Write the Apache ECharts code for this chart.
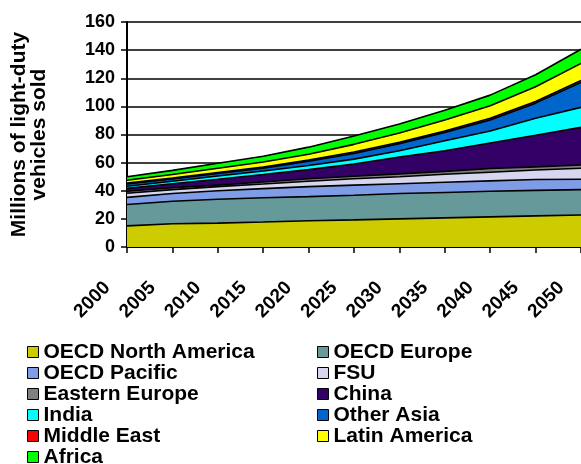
<!DOCTYPE html>
<html>
<head>
<meta charset="utf-8">
<script src="https://cdn.jsdelivr.net/npm/echarts@6/dist/echarts.min.js"></script>
<style>
html,body{margin:0;padding:0;background:#fff;}
#c{width:581px;height:464px;}
</style>
</head>
<body>
<div id="c"></div>
<script>
var years = ['2000','2005','2010','2015','2020','2025','2030','2035','2040','2045','2050'];
var oecdNorthAmerica = [15.0,16.5,17.0,17.8,18.7,19.3,20.0,20.7,21.4,22.1,22.8];
var oecdEurope      = [15.2,16.0,17.0,17.2,17.1,17.5,18.0,18.1,18.2,18.2,18.0];
var oecdPacific     = [5.1,5.5,6.0,6.5,7.1,7.2,7.0,7.2,7.4,7.7,7.4];
var fsu             = [2.9,2.8,2.9,3.3,3.9,4.5,5.0,5.7,6.2,6.8,7.8];
var easternEurope   = [1.4,1.4,1.1,1.4,1.7,1.8,2.0,2.1,2.6,2.2,2.3];
var china           = [2.1,2.8,4.2,5.3,6.5,8.7,12.0,14.7,18.2,22.5,26.8];
var india           = [1.5,1.8,2.3,2.5,3.0,3.5,4.5,7.0,8.5,12.0,14.2];
var otherAsia       = [1.6,1.5,1.8,2.0,3.0,4.0,5.0,6.0,7.8,10.8,17.8];
var middleEast      = [0.7,0.7,0.7,0.8,0.8,1.0,1.0,1.0,1.2,1.2,1.3];
var latinAmerica    = [2.0,2.5,3.0,3.7,4.2,5.5,6.5,7.8,9.0,10.5,12.2];
var africa          = [2.5,3.0,3.5,4.0,5.0,6.0,6.5,7.0,7.5,8.5,10.0];
var yTicks = [0,20,40,60,80,100,120,140,160];

var names = ['OECD North America','OECD Europe','OECD Pacific','FSU','Eastern Europe','China','India','Other Asia','Middle East','Latin America','Africa'];
var values = [oecdNorthAmerica,oecdEurope,oecdPacific,fsu,easternEurope,china,india,otherAsia,middleEast,latinAmerica,africa];
var colors = ['#cccc00','#669999','#7f9de6','#d6d6ee','#808080','#330066','#00ffff','#0066cc','#ff0000','#ffff00','#00ff00'];

var FONT = '"Liberation Sans", Arial, sans-serif';
var series = names.map(function(n,i){
  return {
    name:n, type:'line', stack:'total', data:values[i],
    symbol:'none', showSymbol:false, smooth:false,
    itemStyle:{color:colors[i], borderColor:'#000', borderWidth:1},
    lineStyle:{color:'#000', width:1.6},
    areaStyle:{color:colors[i], opacity:1},
    emphasis:{disabled:true}, animation:false
  };
});

var legendCommon = {
  orient:'vertical', icon:'rect', itemWidth:11, itemHeight:11, itemGap:0, padding:0,
  height:140,
  itemStyle:{borderColor:'#000', borderWidth:1},
  textStyle:{fontFamily:FONT, fontWeight:'bold', fontSize:21, color:'#000', lineHeight:20.8},
  selectedMode:false
};

var chart = echarts.init(document.getElementById('c'), null, {renderer:'canvas'});
chart.setOption({
  animation:false,
  backgroundColor:'#fff',
  grid:{left:127, right:0, top:22, bottom:217, containLabel:false},
  legend:[
    Object.assign({}, legendCommon, {left:27, top:341.5, data:['OECD North America','OECD Pacific','Eastern Europe','India','Middle East','Africa']}),
    Object.assign({}, legendCommon, {left:317, top:341.5, data:['OECD Europe','FSU','China','Other Asia','Latin America']})
  ],
  xAxis:{
    type:'category', data:years, boundaryGap:false,
    axisLine:{lineStyle:{color:'#000', width:2}},
    axisTick:{show:true, length:6, lineStyle:{color:'#000', width:1.5}},
    axisLabel:{rotate:45, margin:18, padding:[0,28,0,0], fontFamily:FONT, fontWeight:'bold', fontSize:19, color:'#000', interval:0},
    splitLine:{show:false}
  },
  yAxis:{
    type:'value', min:yTicks[0], max:yTicks[yTicks.length-1], interval:20,
    name:'Millions of light-duty\nvehicles sold', nameLocation:'middle', nameRotate:90, nameGap:78,
    nameTextStyle:{fontFamily:FONT, fontWeight:'bold', fontSize:21, color:'#000', lineHeight:20, align:'center'},
    axisLine:{show:true, lineStyle:{color:'#000', width:2}},
    axisTick:{show:true, length:6, lineStyle:{color:'#000', width:1.5}},
    axisLabel:{margin:12, fontFamily:FONT, fontWeight:'bold', fontSize:18, color:'#000'},
    splitLine:{show:true, lineStyle:{color:'#000', width:1.6}}
  },
  series:series
});
</script>
</body>
</html>
